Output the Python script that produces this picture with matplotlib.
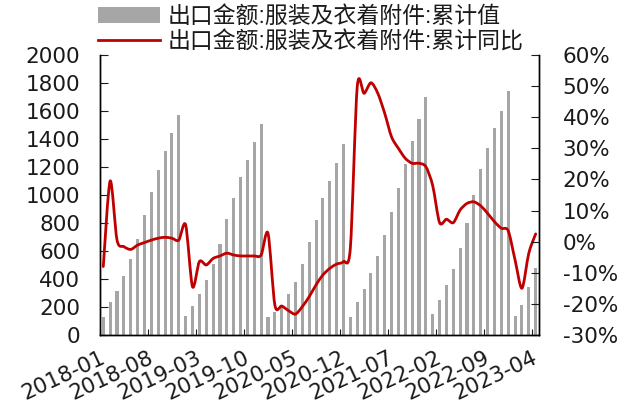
import numpy as np
import pandas as pd
import matplotlib
matplotlib.use("Agg")
import matplotlib.pyplot as plt
from matplotlib.lines import Line2D
from matplotlib.path import Path
from matplotlib.patches import PathPatch

plt.rcParams["font.family"] = ["DejaVu Sans", "Noto Sans CJK SC"]

# monthly series, 2018-01 .. 2023-04 (亿美元 / %)
months = pd.period_range("2018-01", "2023-04", freq="M").strftime("%Y-%m").tolist()

cum_value = [
    131, 238, 317, 424, 543, 683, 857, 1019, 1179, 1314, 1440, 1569,
    135, 207, 293, 393, 507, 650, 826, 976, 1131, 1250, 1376, 1505,
    128, 162, 190, 293, 376, 507, 662, 821, 976, 1102, 1231, 1362,
    131, 238, 326, 445, 564, 714, 876, 1048, 1221, 1388, 1540, 1698,
    150, 250, 357, 469, 619, 802, 1000, 1183, 1333, 1476, 1602, 1745,
    138, 214, 345, 476,
]

cum_yoy = [
    -8.0, 19.5, 0.5, -1.6, -2.5, -1.1, -0.3, 0.5, 1.1, 1.4, 1.1, 0.5,
    5.4, -14.5, -6.4, -7.5, -5.4, -4.6, -3.7, -4.3, -4.6, -4.6, -4.6, -4.3,
    2.7, -20.4, -20.7, -22.2, -23.3, -20.9, -17.7, -13.9, -10.7, -8.6, -7.2, -6.4,
    -2.0, 49.8, 47.7, 51.1, 47.7, 41.3, 33.7, 30.0, 26.8, 25.2, 25.2, 24.1,
    18.0, 6.1, 7.2, 6.1, 10.2, 12.3, 12.8, 11.5, 9.1, 6.4, 4.3, 3.5,
    -5.9, -15.0, -3.7, 2.5,
]

labels = ["出口金额:服装及衣着附件:累计值", "出口金额:服装及衣着附件:累计同比"]

BAR = "#A6A6A6"
LINE = "#C00000"
TXT = "#1a1a1a"


def smooth_path(xs, ys, k=1 / 7):
    """Cubic path through every point, smoothed like an Excel line."""
    pts = np.column_stack([xs, ys]).astype(float)
    padded = np.vstack([pts[0], pts, pts[-1]])
    verts = [pts[0]]
    codes = [Path.MOVETO]
    for i in range(1, len(padded) - 2):
        p0, p1, p2, p3 = padded[i - 1], padded[i], padded[i + 1], padded[i + 2]
        verts += [p1 + (p2 - p0) * k, p2 - (p3 - p1) * k, p2]
        codes += [Path.CURVE4] * 3
    return Path(verts, codes)


x = np.arange(len(months))

fig = plt.figure(figsize=(6.32, 4.05), dpi=100)
ax = fig.add_axes([0.158, 0.173, 0.695, 0.691])
ax2 = ax.twinx()

bars = ax.bar(x, cum_value, width=0.45, color=BAR, zorder=1)
ax2.add_patch(PathPatch(smooth_path(x, cum_yoy), facecolor="none", edgecolor=LINE,
                        lw=2.0, joinstyle="round", capstyle="round"))

ax.set_xlim(-0.5, len(months) - 0.5)
ax.set_ylim(0, 2000)
ax.set_yticks(np.arange(0, 2001, 200))
ax2.set_ylim(-30, 60)
ax2.set_yticks(np.arange(-30, 61, 10))
ax2.set_yticklabels([f"{v}%" for v in range(-30, 61, 10)])

tick_idx = x[::7]
ax.set_xticks(tick_idx - 0.5)
ax.set_xticklabels([months[i] for i in tick_idx], rotation=25, ha="right",
                   va="top", rotation_mode="anchor")

for a in (ax, ax2):
    a.spines["top"].set_visible(False)
    for s in a.spines.values():
        s.set_linewidth(1.0)
        s.set_color("black")
ax.tick_params(axis="y", direction="in", length=6, pad=14, labelsize=15.5, colors=TXT)
ax.tick_params(axis="x", direction="in", length=4, pad=9, labelsize=15.5, colors=TXT)
ax2.tick_params(axis="y", direction="in", length=6, pad=17, labelsize=15.5, colors=TXT)
for a in (ax, ax2):
    for t in a.get_yticklines() + a.get_xticklines():
        t.set_color("black")

line_handle = Line2D([], [], color=LINE, lw=2.0)
fig.legend([bars, line_handle], labels, loc="upper left", bbox_to_anchor=(0.153, 0.99),
           frameon=False, handlelength=2.7, handletextpad=0.35,
           labelspacing=0.1, borderpad=0.05, borderaxespad=0, labelcolor=TXT,
           prop={"family": ["Liberation Sans", "Noto Sans CJK SC"], "size": 16.5})

fig.savefig("out.png", dpi=100)
